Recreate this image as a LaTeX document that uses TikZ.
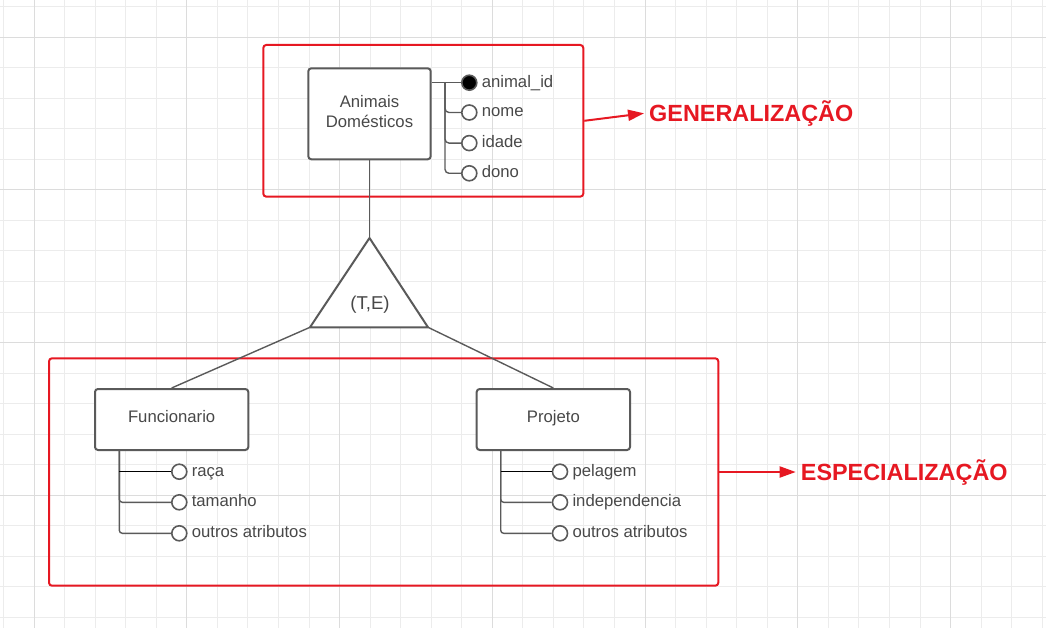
\documentclass[tikz,border=0pt]{standalone}
\usepackage{fontspec}
\setmainfont{Liberation Sans}
\usetikzlibrary{arrows.meta,positioning}
\definecolor{traco}{RGB}{90,90,90}
\definecolor{texto}{RGB}{72,72,72}
\definecolor{vermelho}{RGB}{230,24,34}
\definecolor{grademenor}{RGB}{236,236,236}
\definecolor{grademaior}{RGB}{220,220,220}
\tikzset{
  entidade/.style={draw=traco,line width=2pt,rounded corners=3pt,fill=white,inner sep=0pt},
  nomeent/.style={text=texto,font=\fontsize{16.7}{20.6}\selectfont,inner sep=0pt,align=center},
  atrib/.style={circle,draw=traco,line width=1.6pt,fill=white,minimum size=15pt,inner sep=0pt},
  nomeatrib/.style={inner sep=4pt,text=texto,font=\fontsize{16.7}{20}\selectfont,
    text height=13pt,text depth=4pt},
  grupo/.style={draw=vermelho,line width=2pt,rounded corners=3pt,inner sep=0pt},
  rotulo/.style={anchor=west,inner sep=5pt,text=vermelho,font=\bfseries\fontsize{23.4}{28}\selectfont,
    text height=16.8pt,text depth=0pt},
  liga/.style={draw=traco,line width=1.4pt},
  seta/.style={draw=vermelho,line width=2pt,-{Triangle[length=16pt,width=11pt]}}
}

\begin{document}
\begin{tikzpicture}[x=1pt,y=-1pt]
\useasboundingbox (0,0) rectangle (1046,628);
\foreach \k in {0,...,34}
{\draw[grademenor,line width=1pt] (3.5+30.55*\k,0) -- (3.5+30.55*\k,628);}
\foreach \k in {0,...,20}
{\draw[grademenor,line width=1pt] (0,6.5+30.55*\k) -- (1046,6.5+30.55*\k);}
\foreach \k in {1,6,11,16,21,26,31}
{\draw[grademaior,line width=1pt] (3.5+30.55*\k,0) -- (3.5+30.55*\k,628);}
\foreach \k in {1,6,11,16}
{\draw[grademaior,line width=1pt] (0,6.5+30.55*\k) -- (1046,6.5+30.55*\k);}

\node[grupo,minimum width=320pt,minimum height=151.7pt] (gen) at (423.3,120.8) {};
\node[grupo,minimum width=669.3pt,minimum height=227.4pt] (esp) at (383.65,472) {};
\node[rotulo] (gentxt) at (644,113.3) {GENERALIZAÇÃO};
\node[rotulo] (esptxt) at (795.7,472) {ESPECIALIZAÇÃO};
\draw[seta] (gen.east) -- (gentxt.west);
\draw[seta] (esp.east) -- (esptxt.west);

\node[entidade,minimum width=122.4pt,minimum height=91pt] (anim) at (369.5,113.8) {};
\node[entidade,minimum width=153.3pt,minimum height=61pt] (func) at (171.65,419.5) {};
\node[entidade,minimum width=153.3pt,minimum height=61pt] (proj) at (553.35,419.5) {};
\node[nomeent] (animtxt) at (369.5,111.6) {Animais\\Domésticos};
\node[nomeent,text height=12pt,text depth=0pt] (functxt) at (171.65,416.2) {Funcionario};
\node[nomeent,text height=12pt,text depth=0pt] (projtxt) at (553.35,416.2) {Projeto};

\coordinate (topo) at (369.5,238);
\coordinate (esq) at (310,327.3);
\coordinate (dir) at (428,327.3);
\draw[liga] (anim.south) -- (topo);
\draw[liga] (esq) -- (func.north);
\draw[liga] (dir) -- (proj.north);
\draw[draw=traco,line width=2pt,line join=round,fill=white] (topo) -- (dir) -- (esq) -- cycle;
\node[text=texto,font=\fontsize{18.6}{22}\selectfont,text height=13.3pt,text depth=0pt,inner sep=0pt] (te) at (370,303.3) {(T,E)};

\node[atrib,fill=black] (a1) at (469.3,82.7) {};
\node[atrib] (a2) at (469.3,112.5) {};
\node[atrib] (a3) at (469.3,143.1) {};
\node[atrib] (a4) at (469.3,173.3) {};
\coordinate (ramoa) at (445,82.7);
\draw[liga] (anim.east |- a1) -- (a1);
\draw[liga,rounded corners=4pt] (ramoa) |- (a4);
\draw[liga,rounded corners=4pt] (ramoa) |- (a3);
\draw[liga,rounded corners=4pt] (ramoa) |- (a2);
\node[nomeatrib,right=0pt of a1] (ta1) {animal\_id};
\node[nomeatrib,right=0pt of a2] (ta2) {nome};
\node[nomeatrib,right=0pt of a3] (ta3) {idade};
\node[nomeatrib,right=0pt of a4] (ta4) {dono};

\node[atrib] (f1) at (179.3,471.7) {};
\node[atrib] (f2) at (179.3,502.3) {};
\node[atrib] (f3) at (179.3,533.3) {};
\coordinate (ramof) at (119.3,450);
\draw[liga,rounded corners=3pt] (ramof) |- (f3);
\draw[liga,rounded corners=3pt] (ramof) |- (f2);
\draw[black,line width=1.4pt] (ramof |- f1) -- (f1);
\node[nomeatrib,right=0pt of f1] (tf1) {raça};
\node[nomeatrib,right=0pt of f2] (tf2) {tamanho};
\node[nomeatrib,right=0pt of f3] (tf3) {outros atributos};

\node[atrib] (p1) at (560,471.7) {};
\node[atrib] (p2) at (560,502.3) {};
\node[atrib] (p3) at (560,533.3) {};
\coordinate (ramop) at (500.7,450);
\draw[liga,rounded corners=3pt] (ramop) |- (p3);
\draw[liga,rounded corners=3pt] (ramop) |- (p2);
\draw[black,line width=1.4pt] (ramop |- p1) -- (p1);
\node[nomeatrib,right=0pt of p1] (tp1) {pelagem};
\node[nomeatrib,right=0pt of p2] (tp2) {independencia};
\node[nomeatrib,right=0pt of p3] (tp3) {outros atributos};
\end{tikzpicture}
\end{document}
